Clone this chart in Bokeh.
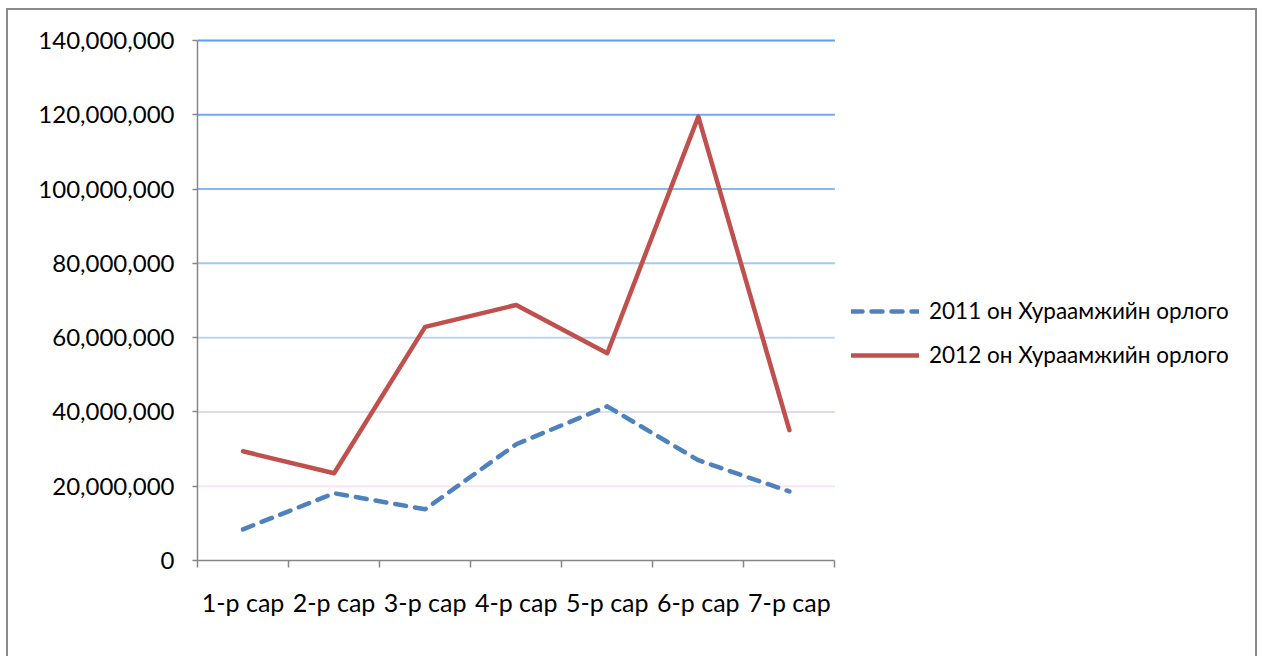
from bokeh.plotting import figure
from bokeh.models import (Range1d, FixedTicker, NumeralTickFormatter,
                          Legend, LegendItem)
from bokeh.embed import file_html
from bokeh.resources import INLINE

categories = ["1-р сар", "2-р сар", "3-р сар", "4-р сар", "5-р сар", "6-р сар", "7-р сар"]
series_2011_name = "2011 он Хураамжийн орлого"
series_2012_name = "2012 он Хураамжийн орлого"
rev_2011 = [8.4e6, 18.1e6, 13.8e6, 31.3e6, 41.5e6, 27.0e6, 18.6e6]
rev_2012 = [29.4e6, 23.5e6, 62.9e6, 68.8e6, 55.8e6, 119.5e6, 35.1e6]
y_ticks = [0, 20e6, 40e6, 60e6, 80e6, 100e6, 120e6, 140e6]
grid_colors = [None, "#fbe3f3", "#dcdcf4", "#bcd6f0", "#a3caf5", "#85baf7", "#6eaaf6", "#5c9cf5"]

FONT = "Lato"
n = len(categories)
xs = [i + 0.5 for i in range(n)]
y_max = y_ticks[-1]

W, H = 1251, 648
BORDER = 2
LEFT, TOP = 189, 27
PLOT_W, PLOT_H, PAD = 635, 518, 3
frame_w = W - 2 * BORDER - LEFT
frame_h = PLOT_H + PAD
BOTTOM = H - BORDER - TOP - frame_h
x_max = n * frame_w / PLOT_W
y_end = y_max * frame_h / PLOT_H

p = figure(width=W, height=H, output_backend="svg", toolbar_location=None,
           x_range=Range1d(0, x_max), y_range=Range1d(0, y_end))
p.min_border_left = LEFT
p.min_border_top = TOP
p.min_border_right = 0
p.min_border_bottom = BOTTOM
p.outline_line_color = None
p.xgrid.visible = False
p.ygrid.visible = False
p.styles = {"border-top": "2px solid #8a8a8a", "border-left": "2px solid #8a8a8a",
            "border-right": "2px solid #8a8a8a", "box-sizing": "border-box",
            "margin-left": "6px", "margin-top": "8px"}

g_y = [v for v, c in zip(y_ticks, grid_colors) if c is not None]
g_c = [c for c in grid_colors if c is not None]
p.segment(x0=[0] * len(g_y), y0=g_y, x1=[n] * len(g_y), y1=g_y,
          line_color=g_c, line_width=2)

r1 = p.line(xs, rev_2011, line_color="#4f81bd", line_width=4.5, line_dash="11 9",
            line_cap="round", line_join="round")
r2 = p.line(xs, rev_2012, line_color="#c0504d", line_width=4.5,
            line_cap="round", line_join="round")

# y axis
ya = p.yaxis[0]
ya.bounds = (0, y_max)
ya.ticker = FixedTicker(ticks=y_ticks)
ya.formatter = NumeralTickFormatter(format="0,0")
ya.axis_line_color = "#868686"
ya.axis_line_width = 1.5
ya.major_tick_line_color = "#868686"
ya.major_tick_line_width = 1.5
ya.major_tick_out = 5
ya.major_tick_in = 0
ya.minor_tick_line_color = None
ya.major_label_text_font = FONT
ya.major_label_text_font_size = "24px"
ya.major_label_text_color = "#000000"
ya.major_label_standoff = 18

# x axis
xa = p.xaxis[0]
xa.bounds = (0, n)
xa.ticker = FixedTicker(ticks=xs, minor_ticks=list(range(n + 1)))
xa.major_label_overrides = {x: c for x, c in zip(xs, categories)}
xa.axis_line_color = "#868686"
xa.axis_line_width = 1.5
xa.major_tick_line_color = None
xa.major_tick_out = 6
xa.minor_tick_line_color = "#868686"
xa.minor_tick_line_width = 1.5
xa.minor_tick_out = 7
xa.minor_tick_in = 0
xa.major_label_text_font = FONT
xa.major_label_text_font_size = "25px"
xa.major_label_text_color = "#000000"
xa.major_label_standoff = 19

legend = Legend(items=[LegendItem(label=series_2011_name, renderers=[r1]),
                       LegendItem(label=series_2012_name, renderers=[r2])],
                location=(654, 192))
legend.label_text_font = FONT
legend.label_text_font_size = "22.5px"
legend.label_text_color = "#000000"
legend.glyph_width = 68
legend.glyph_height = 20
legend.spacing = 17
legend.label_standoff = 10
legend.padding = 0
legend.margin = 0
legend.border_line_color = None
legend.background_fill_alpha = 0
p.add_layout(legend, "center")

open("out.html", "w").write(file_html(p, INLINE))
